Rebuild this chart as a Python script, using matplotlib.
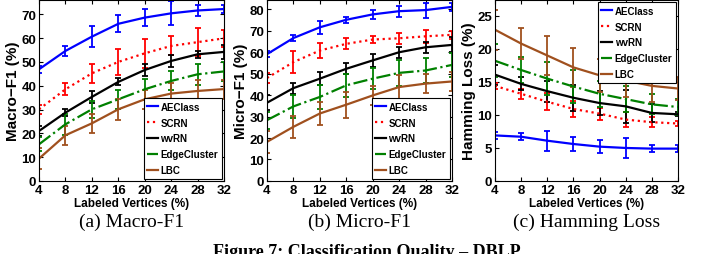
import numpy as np
import matplotlib
matplotlib.use("Agg")
import matplotlib.pyplot as plt
from matplotlib.lines import Line2D

# labeled vertices (%)
x = [4, 8, 12, 16, 20, 24, 28, 32]
methods = ["AEClass", "SCRN", "wvRN", "EdgeCluster", "LBC"]

# Macro-F1 (%)
macro_mean = {
    "AEClass":     [46.9, 54.6, 60.6, 66.0, 68.6, 70.4, 71.6, 72.2],
    "SCRN":        [30.1, 38.5, 45.2, 50.0, 53.6, 56.7, 58.3, 59.9],
    "wvRN":        [21.0, 28.7, 35.3, 41.6, 46.6, 50.4, 53.2, 54.2],
    "EdgeCluster": [15.4, 23.8, 30.1, 34.3, 38.5, 42.0, 44.8, 46.0],
    "LBC":         [9.4, 19.2, 24.2, 30.1, 34.3, 36.7, 37.8, 38.6],
}
macro_err = {
    "AEClass":     [1.5, 2.0, 4.5, 3.5, 3.5, 5.0, 2.3, 1.5],
    "SCRN":        [2.0, 2.5, 4.0, 5.5, 6.0, 4.0, 6.0, 3.5],
    "wvRN":        [2.0, 1.5, 2.5, 1.5, 2.5, 2.5, 1.5, 3.0],
    "EdgeCluster": [3.0, 4.5, 3.5, 4.0, 4.5, 4.0, 4.5, 4.0],
    "LBC":         [4.5, 4.0, 4.0, 4.5, 4.0, 4.5, 4.5, 4.0],
}

# Micro-F1 (%)
micro_mean = {
    "AEClass":     [59.0, 66.5, 71.5, 75.0, 77.5, 79.0, 79.5, 81.0],
    "SCRN":        [47.9, 55.3, 60.7, 63.8, 65.8, 66.4, 67.3, 68.0],
    "wvRN":        [36.4, 43.2, 47.6, 52.2, 56.1, 59.9, 62.2, 63.3],
    "EdgeCluster": [28.3, 34.7, 39.1, 44.5, 47.6, 50.3, 51.4, 54.0],
    "LBC":         [18.2, 25.2, 31.4, 35.5, 39.8, 43.7, 45.3, 46.3],
}
micro_err = {
    "AEClass":     [1.5, 1.5, 3.0, 1.5, 2.0, 2.5, 3.5, 2.0],
    "SCRN":        [2.5, 5.0, 3.5, 2.5, 1.5, 2.5, 3.0, 2.0],
    "wvRN":        [3.5, 2.5, 3.0, 2.5, 3.0, 2.5, 2.5, 3.5],
    "EdgeCluster": [4.0, 5.5, 5.5, 5.5, 5.0, 6.0, 6.0, 5.5],
    "LBC":         [5.0, 5.0, 5.5, 6.0, 4.5, 5.5, 4.5, 4.5],
}

# Hamming loss (%)
hamming_mean = {
    "AEClass":     [6.9, 6.7, 6.1, 5.6, 5.2, 5.0, 4.9, 4.9],
    "SCRN":        [14.4, 13.2, 12.0, 10.9, 10.2, 9.3, 8.9, 8.7],
    "wvRN":        [16.1, 14.7, 13.6, 12.6, 11.8, 11.3, 10.3, 10.1],
    "EdgeCluster": [18.2, 16.8, 15.5, 14.3, 13.2, 12.4, 11.6, 11.2],
    "LBC":         [22.9, 20.8, 19.0, 17.2, 16.0, 15.2, 14.4, 14.0],
}
hamming_err = {
    "AEClass":     [0.5, 0.5, 1.5, 1.0, 1.0, 1.5, 0.5, 0.5],
    "SCRN":        [0.5, 0.8, 1.3, 1.2, 0.9, 1.2, 0.8, 0.4],
    "wvRN":        [1.5, 1.0, 1.6, 2.0, 1.8, 2.5, 1.3, 0.3],
    "EdgeCluster": [2.5, 2.0, 2.5, 2.5, 2.0, 2.0, 1.5, 1.2],
    "LBC":         [3.0, 2.3, 3.0, 3.0, 2.5, 2.5, 2.5, 1.8],
}

colors = {"AEClass": "#0000ff", "SCRN": "#ff0000", "wvRN": "#000000",
          "EdgeCluster": "#008000", "LBC": "#a0501e"}
styles = {"AEClass": "-", "SCRN": ":", "wvRN": "-", "EdgeCluster": "-.", "LBC": "-"}

SANS = "Liberation Sans"
SERIF = "Liberation Serif"


def draw_panel(ax, means, errs, ylabel, ylim, yticks, legend_loc):
    handles = []
    for m in methods:
        ax.errorbar(x, means[m], yerr=errs[m], color=colors[m], ls=styles[m],
                    lw=1.6, elinewidth=1.3, capsize=2, capthick=1.3)
        handles.append(Line2D([], [], color=colors[m], ls=styles[m], lw=1.6))
    ax.set_xlim(4, 32)
    ax.set_ylim(*ylim)
    ax.set_xticks(x)
    ax.set_yticks(yticks)
    ax.tick_params(direction="in", top=True, right=True, length=3, pad=2,
                   labelsize=9.5)
    for lab in ax.get_xticklabels() + ax.get_yticklabels():
        lab.set_fontweight("bold")
        lab.set_fontfamily(SANS)
    ax.set_xlabel("Labeled Vertices (%)", fontsize=8.5, fontweight="bold",
                  family=SANS, labelpad=1)
    ax.set_ylabel(ylabel, fontsize=11, fontweight="bold", family=SANS, labelpad=1)
    leg = ax.legend(handles, methods, loc=legend_loc, handlelength=1.1,
                    handletextpad=0.3, labelspacing=0.6, borderpad=0.35,
                    borderaxespad=0.25, fancybox=False, framealpha=1,
                    edgecolor="black", prop={"weight": "bold", "family": SANS,
                                             "size": 7})
    leg.get_frame().set_linewidth(0.8)


fig = plt.figure(figsize=(7.05, 2.55), dpi=100)
bottom, height = 0.2863, 0.7098
ax1 = fig.add_axes([0.0553, bottom, 0.2624, height])
ax2 = fig.add_axes([0.3787, bottom, 0.2624, height])
ax3 = fig.add_axes([0.7021, bottom, 0.2596, height])

draw_panel(ax1, macro_mean, macro_err, "Macro\u2212F1 (%)", (0, 76),
           np.arange(0, 71, 10), "lower right")
draw_panel(ax2, micro_mean, micro_err, "Micro\u2212F1 (%)", (0, 84.2),
           np.arange(0, 81, 10), "lower right")
draw_panel(ax3, hamming_mean, hamming_err, "Hamming Loss (%)", (0, 27.4),
           np.arange(0, 26, 5), "upper right")

captions = ["(a) Macro-F1", "(b) Micro-F1", "(c) Hamming Loss"]
for ax, cap in zip([ax1, ax2, ax3], captions):
    pos = ax.get_position()
    fig.text(pos.x0 + pos.width / 2, 1 - 222 / 255, cap, ha="center", va="center",
             fontsize=14, family=SERIF)

# figure caption, cut at the bottom edge as in the source page
fig.text(0.52, 1 - 244 / 255, "Figure 7: Classification Quality \u2013 DBLP",
         ha="center", va="top", fontsize=13, fontweight="bold", family=SERIF)

fig.savefig("out.png", dpi=100)
